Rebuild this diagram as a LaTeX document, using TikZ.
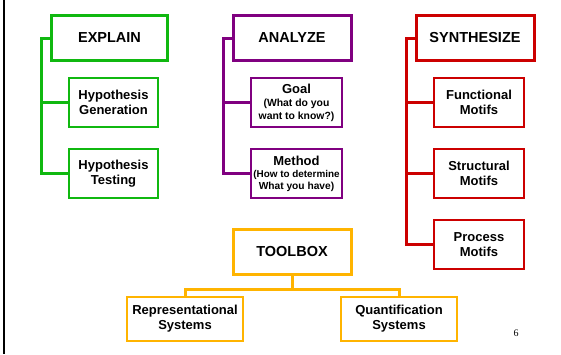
\documentclass[tikz,border=0pt]{standalone}
\usepackage{fontspec}
\setmainfont{Liberation Sans}
\newfontfamily\numfont{Liberation Serif}
\definecolor{expgreen}{RGB}{16,184,16}
\definecolor{anapurple}{RGB}{128,0,128}
\definecolor{synred}{RGB}{204,0,0}
\definecolor{toolgold}{RGB}{255,180,0}
\tikzset{
  headbox/.style={draw, line width=3pt, minimum width=116pt, minimum height=45pt, inner sep=0pt,
    font=\fontsize{14.5}{16}\selectfont\bfseries},
  itembox/.style={draw, line width=2pt, minimum width=89pt, minimum height=49pt, inner sep=0pt,
    align=center, font=\fontsize{13}{15}\selectfont\bfseries},
  link/.style={line width=3pt}
}
\newcommand{\smalltxt}[1]{{\fontsize{10.4}{13}\selectfont #1}}
\begin{document}
\begin{tikzpicture}[x=1pt,y=-1pt]
  \useasboundingbox (0,0) rectangle (561,354);
  \draw[line width=2.5pt] (4,0) -- (4,354);

  % explain column
  \node[headbox, draw=expgreen] (explain) at (109.5,38) {EXPLAIN};
  \node[itembox, draw=expgreen] (hypgen) at (113.5,102.5) {Hypothesis\\Generation};
  \node[itembox, draw=expgreen] (hyptest) at (113.5,173.5) {Hypothesis\\Testing};
  \draw[link, expgreen] (explain.west) -- ++(-9,0) coordinate (etrunk) |- (hyptest.west);
  \draw[link, expgreen] (etrunk |- hypgen.west) -- (hypgen.west);

  % analyze column
  \node[headbox, draw=anapurple, minimum width=118pt] (analyze) at (292,38) {ANALYZE};
  \node[itembox, draw=anapurple, minimum width=91pt, font=\fontsize{13}{13}\selectfont\bfseries] (goal) at (296.5,102.5)
    {Goal\\\smalltxt{(What do you}\\\smalltxt{want to know?)}};
  \node[itembox, draw=anapurple, minimum width=91pt, font=\fontsize{13}{12}\selectfont\bfseries] (method) at (296.5,173.5)
    {Method\\{\fontsize{9.9}{12}\selectfont (How to determine}\\{\fontsize{10.2}{12}\selectfont What you have)}};
  \draw[link, anapurple] (analyze.west) -- ++(-8,0) coordinate (atrunk) |- (method.west);
  \draw[link, anapurple] (atrunk |- goal.west) -- (goal.west);

  % synthesize column
  \node[headbox, draw=synred, minimum width=118pt] (synth) at (475,38) {SYNTHESIZE};
  \node[itembox, draw=synred, minimum width=90pt] (func) at (479,102.5) {Functional\\Motifs};
  \node[itembox, draw=synred, minimum width=90pt] (struct) at (479,173.5) {Structural\\Motifs};
  \node[itembox, draw=synred, minimum width=90pt] (proc) at (479,244.5) {Process\\Motifs};
  \draw[link, synred] (synth.west) -- ++(-8,0) coordinate (strunk) |- (proc.west);
  \draw[link, synred] (strunk |- func.west) -- (func.west);
  \draw[link, synred] (strunk |- struct.west) -- (struct.west);

  % toolbox
  \node[headbox, draw=toolgold, minimum width=118pt] (toolbox) at (292,251.5) {TOOLBOX};
  \node[itembox, draw=toolgold, minimum width=116pt, minimum height=44pt] (repsys) at (185,319) {Representational\\Systems};
  \node[itembox, draw=toolgold, minimum width=116pt, minimum height=44pt] (quantsys) at (399,319) {Quantification\\Systems};
  \draw[link, toolgold] (toolbox.south) -- ++(0,14) coordinate (tjoin) -| (repsys.north);
  \draw[link, toolgold] (tjoin) -| (quantsys.north);

  \node[font=\numfont\fontsize{10}{11}\selectfont] (pagenum) at (516,333) {6};
\end{tikzpicture}
\end{document}
